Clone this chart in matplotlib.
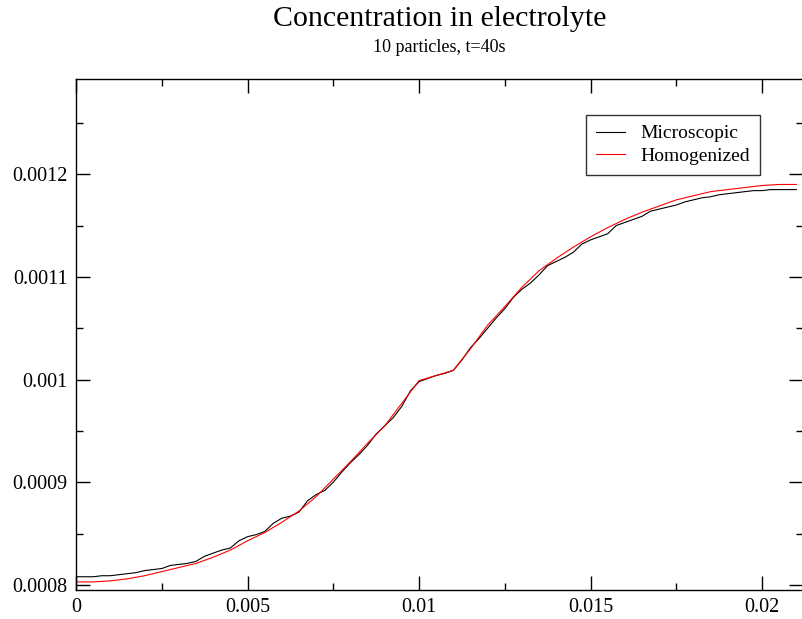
import numpy as np
import matplotlib
matplotlib.use("Agg")
import matplotlib.pyplot as plt
from matplotlib.ticker import MultipleLocator

plt.rcParams['font.family'] = ['Liberation Serif', 'DejaVu Serif']

# Homogenized (red) curve
x_hom = [0.0, 0.0005, 0.001, 0.0015, 0.002, 0.0025, 0.003, 0.0035, 0.004, 0.0045,
         0.005, 0.0055, 0.006, 0.0065, 0.007, 0.0075, 0.008, 0.0085, 0.009, 0.0095,
         0.01, 0.0105, 0.011, 0.0115, 0.012, 0.0125, 0.013, 0.0135, 0.014, 0.0145,
         0.015, 0.0155, 0.016, 0.0165, 0.017, 0.0175, 0.018, 0.0185, 0.019, 0.0195,
         0.02, 0.0205, 0.021]
y_hom = [0.000803, 0.000803, 0.000804, 0.000806, 0.000809, 0.000813, 0.000817, 0.000821, 0.000827, 0.000834,
         0.000843, 0.000851, 0.000861, 0.000872, 0.000886, 0.000903, 0.000920, 0.000938, 0.000955, 0.000977,
         0.000999, 0.001004, 0.001009, 0.001030, 0.001053, 0.001071, 0.001090, 0.001106, 0.001118, 0.001129,
         0.001139, 0.001148, 0.001156, 0.001163, 0.001169, 0.001175, 0.001179, 0.001183, 0.001185, 0.001187,
         0.001189, 0.001190, 0.001190]

# Microscopic (black) curve
x_mic = [0.0, 0.00025, 0.0005, 0.00075, 0.001, 0.00125, 0.0015, 0.00175, 0.002, 0.00225,
         0.0025, 0.00275, 0.003, 0.00325, 0.0035, 0.00375, 0.004, 0.00425, 0.0045, 0.00475,
         0.005, 0.00525, 0.0055, 0.00575, 0.006, 0.00625, 0.0065, 0.00675, 0.007, 0.00725,
         0.0075, 0.00775, 0.008, 0.00825, 0.0085, 0.00875, 0.009, 0.00925, 0.0095, 0.00975,
         0.01, 0.01025, 0.0105, 0.01075, 0.011, 0.01125, 0.0115, 0.01175, 0.012, 0.01225,
         0.0125, 0.01275, 0.013, 0.01325, 0.0135, 0.01375, 0.014, 0.01425, 0.0145, 0.01475,
         0.015, 0.01525, 0.0155, 0.01575, 0.016, 0.01625, 0.0165, 0.01675, 0.017, 0.01725,
         0.0175, 0.01775, 0.018, 0.01825, 0.0185, 0.01875, 0.019, 0.01925, 0.0195, 0.01975,
         0.02, 0.02025, 0.0205, 0.02075, 0.021]
y_mic = [0.000808, 0.000808, 0.000808, 0.000809, 0.000809, 0.000810, 0.000811, 0.000812, 0.000814, 0.000815,
         0.000816, 0.000819, 0.000820, 0.000821, 0.000823, 0.000828, 0.000831, 0.000834, 0.000836, 0.000843,
         0.000847, 0.000849, 0.000852, 0.000860, 0.000865, 0.000867, 0.000871, 0.000882, 0.000888, 0.000892,
         0.000900, 0.000910, 0.000919, 0.000927, 0.000936, 0.000947, 0.000955, 0.000963, 0.000974, 0.000989,
         0.000998, 0.001001, 0.001004, 0.001006, 0.001009, 0.001019, 0.001031, 0.001040, 0.001050, 0.001060,
         0.001069, 0.001080, 0.001088, 0.001094, 0.001102, 0.001111, 0.001115, 0.001119, 0.001124, 0.001132,
         0.001136, 0.001139, 0.001142, 0.001150, 0.001153, 0.001156, 0.001159, 0.001164, 0.001166, 0.001168,
         0.001170, 0.001173, 0.001175, 0.001177, 0.001178, 0.001180, 0.001181, 0.001182, 0.001183, 0.001184,
         0.001184, 0.001185, 0.001185, 0.001185, 0.001185]

x_ticks = [0, 0.005, 0.01, 0.015, 0.02]
x_tick_labels = ["0", "0.005", "0.01", "0.015", "0.02"]
y_ticks = [0.0008, 0.0009, 0.001, 0.0011, 0.0012]
y_tick_labels = ["0.0008", "0.0009", "0.001", "0.0011", "0.0012"]

W, H = 802, 619
fig = plt.figure(figsize=(W / 100, H / 100), dpi=100)
left, right, top, bottom = 76, 803.2, 79, 590
ax = fig.add_axes([left / W, (H - bottom) / H, (right - left) / W, (bottom - top) / H])

ax.plot(x_mic, y_mic, color='black', lw=0.8, label='Microscopic')
ax.plot(x_hom, y_hom, color='red', lw=0.8, label='Homogenized')

ax.set_xlim(0, 0.0212)
ax.set_ylim(0.0007951, 0.0012927)

ax.set_xticks(x_ticks)
ax.set_xticklabels(x_tick_labels)
ax.set_yticks(y_ticks)
ax.set_yticklabels(y_tick_labels)
ax.xaxis.set_minor_locator(MultipleLocator(0.0025))
ax.yaxis.set_minor_locator(MultipleLocator(0.00005))

ax.tick_params(which='both', direction='in', top=True, right=True, labelsize=14.5, width=1.0, color='black')
ax.tick_params(which='major', length=10, pad=6)
ax.tick_params(which='minor', length=5)
for s in ax.spines.values():
    s.set_linewidth(1.0)

fig.text((left + right) / 2 / W, 1 - 19 / H, "Concentration in electrolyte", ha='center', va='center', fontsize=21.5)
fig.text((left + right) / 2 / W, 1 - 48 / H, "10 particles, t=40s", ha='center', va='center', fontsize=13)

leg = ax.legend(loc='upper left', bbox_to_anchor=(586 / W, 1 - 115 / H), bbox_transform=fig.transFigure,
                fancybox=False, frameon=True, edgecolor='black', fontsize=14, handlelength=1.5,
                handletextpad=0.8, borderpad=0.5, labelspacing=0.25, borderaxespad=0)
leg.get_frame().set_linewidth(1.0)

fig.savefig("out.png", dpi=100)
